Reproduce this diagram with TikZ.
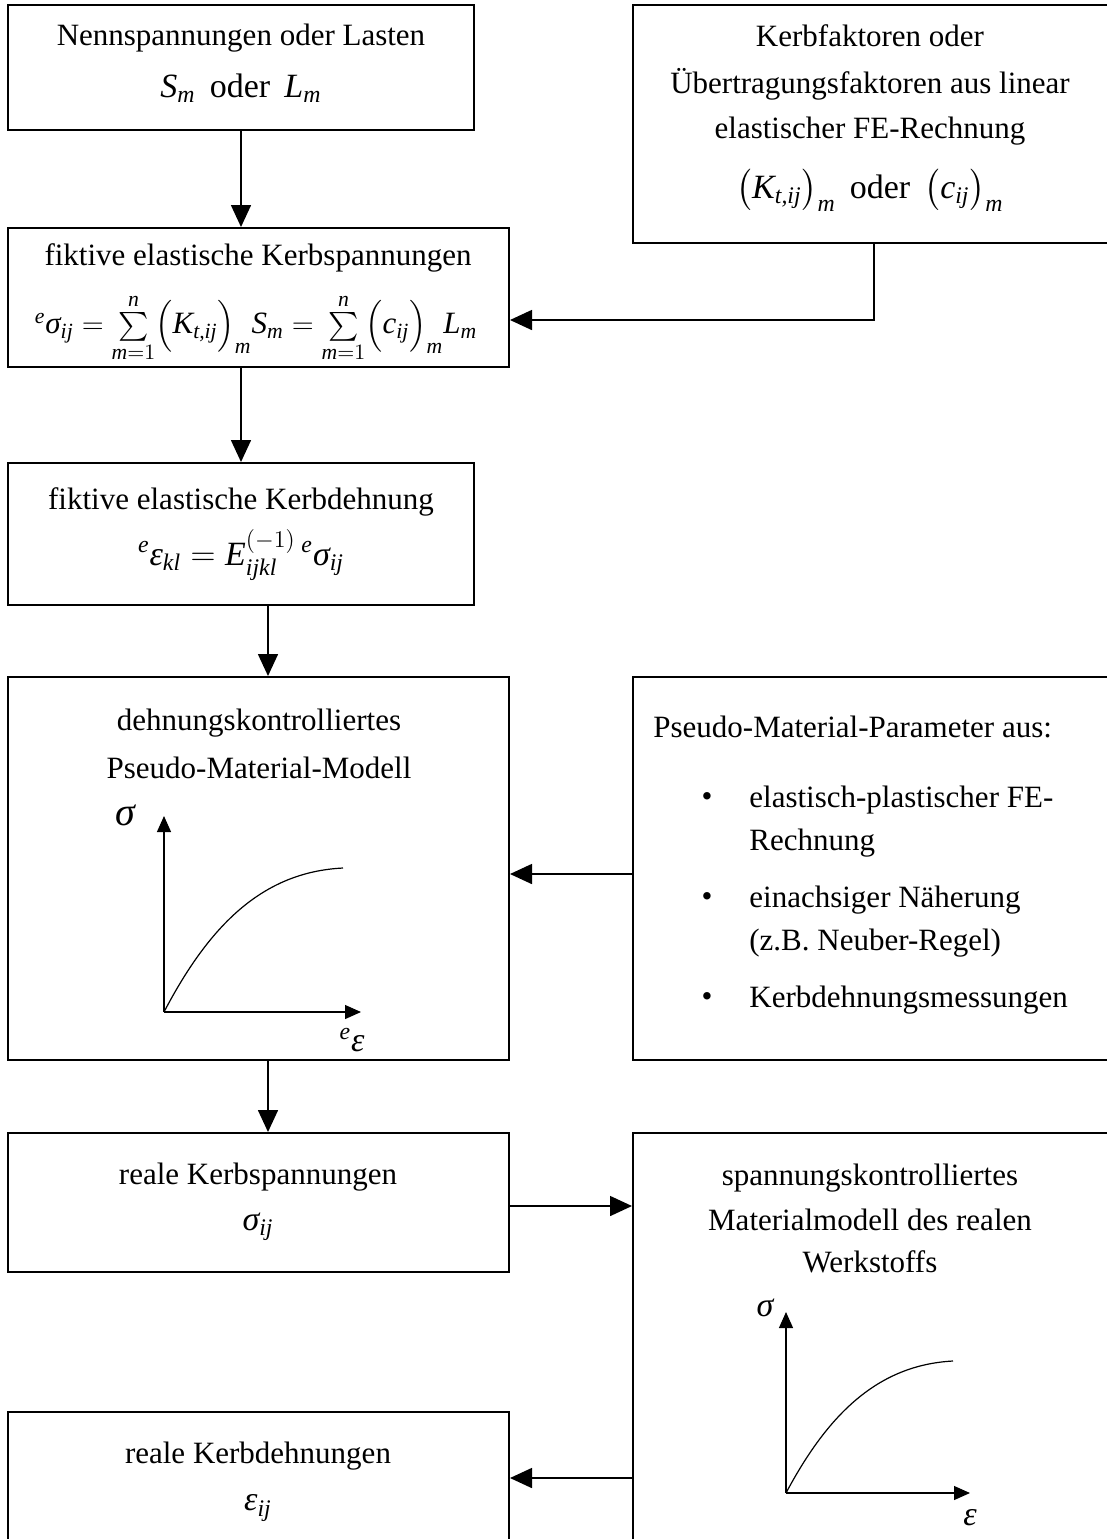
\documentclass[tikz,border=0pt]{standalone}
\usepackage{amsmath}
\usepackage{fontspec}
\setmainfont{Liberation Serif}
\usetikzlibrary{arrows.meta,fit}
\newcommand\itx[1]{\textit{#1}}
\begin{document}
\begin{tikzpicture}[x=0.5pt,y=-0.5pt,
  box/.style={draw,line width=1pt,inner sep=0pt},
  flow/.style={draw,line width=0.8pt,-{Triangle[length=11pt,width=10pt]}},
  ax/.style={draw,line width=0.6pt,-{Triangle[length=8pt,width=7pt]}},
  txt/.style={font=\fontsize{15.5}{18}\selectfont,inner sep=0pt,anchor=center},
  frm/.style={txt,font=\fontsize{17}{20}\selectfont},
  ltxt/.style={txt,anchor=west},
  crv/.style={draw,line width=0.6pt}]
\useasboundingbox (0,0) rectangle (1107,1539);
\clip (0,0) rectangle (1107,1539);
\fill[white] (0,0) rectangle (1107,1539);
% boxes
\node[box,fit={(8,5) (474,130)}] (A) {};
\node[box,fit={(633,5) (1130,243)}] (K) {};
\node[box,fit={(8,228) (509,367)}] (B) {};
\node[box,fit={(8,463) (474,605)}] (C) {};
\node[box,fit={(8,677) (509,1060)}] (D) {};
\node[box,fit={(633,677) (1130,1060)}] (P) {};
\node[box,fit={(8,1133) (509,1272)}] (E) {};
\node[box,fit={(633,1133) (1130,1570)}] (F) {};
\node[box,fit={(8,1412) (509,1570)}] (G) {};
% texts
\node[txt] (a1) at (241,38) {Nennspannungen oder Lasten};
\node[frm] (a2) at (241,88) {$\itx{S}_{\itx{m}}$\, oder \,$\itx{L}_{\itx{m}}$};
\node[txt] (k1) at (870,36) {Kerbfaktoren oder};
\node[txt] (k2) at (870,84) {Übertragungsfaktoren aus linear};
\node[txt] (k3) at (870,131) {elastischer FE-Rechnung};
\node[frm] (k4) at (870,190) {$\bigl(\itx{K}_{\itx{t,ij}}\bigr)_{\itx{m}}$\, oder \,$\bigl(\itx{c}_{\itx{ij}}\bigr)_{\itx{m}}$};
\node[txt] (b1) at (258,258) {fiktive elastische Kerbspannungen};
\node[txt] (b2) at (256,328) {${}^{\itx{e}}\itx{σ}_{\itx{ij}} = \sum\limits_{\itx{m}=1}^{\itx{n}}\Bigl(\itx{K}_{\itx{t,ij}}\Bigr)_{\itx{m}}\itx{S}_{\itx{m}} = \sum\limits_{\itx{m}=1}^{\itx{n}}\Bigl(\itx{c}_{\itx{ij}}\Bigr)_{\itx{m}}\itx{L}_{\itx{m}}$};
\node[txt] (c1) at (241,502) {fiktive elastische Kerbdehnung};
\node[frm] (c2) at (241,555) {${}^{\itx{e}}\itx{ε}_{\itx{kl}} = \itx{E}_{\itx{ijkl}}^{(-1)}\,{}^{\itx{e}}\itx{σ}_{\itx{ij}}$};
\node[txt] (d1) at (259,723) {dehnungskontrolliertes};
\node[txt] (d2) at (259,768) {Pseudo-Material-Modell};
\node[ltxt] (p0) at (653,727) {Pseudo-Material-Parameter aus:};
\node[txt] (pb1) at (707,800) {•};
\node[ltxt] (p1) at (749,800) {elastisch-plastischer FE-};
\node[ltxt] (p2) at (749,843) {Rechnung};
\node[txt] (pb2) at (707,900) {•};
\node[ltxt] (p3) at (749,900) {einachsiger Näherung};
\node[ltxt] (p4) at (749,943) {(z.B. Neuber-Regel)};
\node[txt] (pb3) at (707,1000) {•};
\node[ltxt] (p5) at (749,1000) {Kerbdehnungsmessungen};
\node[txt] (e1) at (258,1177) {reale Kerbspannungen};
\node[frm] (e2) at (258,1227) {$\itx{σ}_{\itx{ij}}$};
\node[txt] (f1) at (870,1178) {spannungskontrolliertes};
\node[txt] (f2) at (870,1220) {Materialmodell des realen};
\node[txt] (f3) at (870,1262) {Werkstoffs};
\node[txt] (g1) at (258,1456) {reale Kerbdehnungen};
\node[frm] (g2) at (258,1508) {$\itx{ε}_{\itx{ij}}$};
% connectors
\coordinate (x1) at (241,0);
\coordinate (x2) at (268,0);
\draw[flow] (x1 |- A.south) -- (x1 |- B.north);
\draw[flow] (x1 |- B.south) -- (x1 |- C.north);
\draw[flow] (x2 |- C.south) -- (x2 |- D.north);
\draw[flow] (x2 |- D.south) -- (x2 |- E.north);
\coordinate (kb) at (874,320);
\draw[flow] (kb |- K.south) -- (kb) -- (kb -| B.east);
\coordinate (y1) at (0,874);
\draw[flow] (y1 -| P.west) -- (y1 -| D.east);
\coordinate (y2) at (0,1206);
\draw[flow] (y2 -| E.east) -- (y2 -| F.west);
\coordinate (y3) at (0,1478);
\draw[flow] (y3 -| F.west) -- (y3 -| G.east);
% graph in D
\coordinate (dO) at (164,1012);
\coordinate (dY) at (164,816);
\coordinate (dX) at (361,1012);
\draw[ax] (dO) -- (dY);
\draw[ax] (dO) -- (dX);
\draw[crv] (dO) .. controls (209,926) and (262,872) .. (343,868);
\node[txt,font=\fontsize{20}{22}\selectfont] (ds) at (125,815) {$\itx{σ}$};
\node[frm] (de) at (352,1040) {${}^{\itx{e}}\itx{ε}$};
% graph in F
\coordinate (fO) at (786,1493);
\coordinate (fY) at (786,1312);
\coordinate (fX) at (970,1493);
\draw[ax] (fO) -- (fY);
\draw[ax] (fO) -- (fX);
\draw[crv] (fO) .. controls (828,1414) and (878,1365) .. (953,1361);
\node[frm] (fs) at (765,1308) {$\itx{σ}$};
\node[frm] (fe) at (970,1518) {$\itx{ε}$};
\end{tikzpicture}
\end{document}
